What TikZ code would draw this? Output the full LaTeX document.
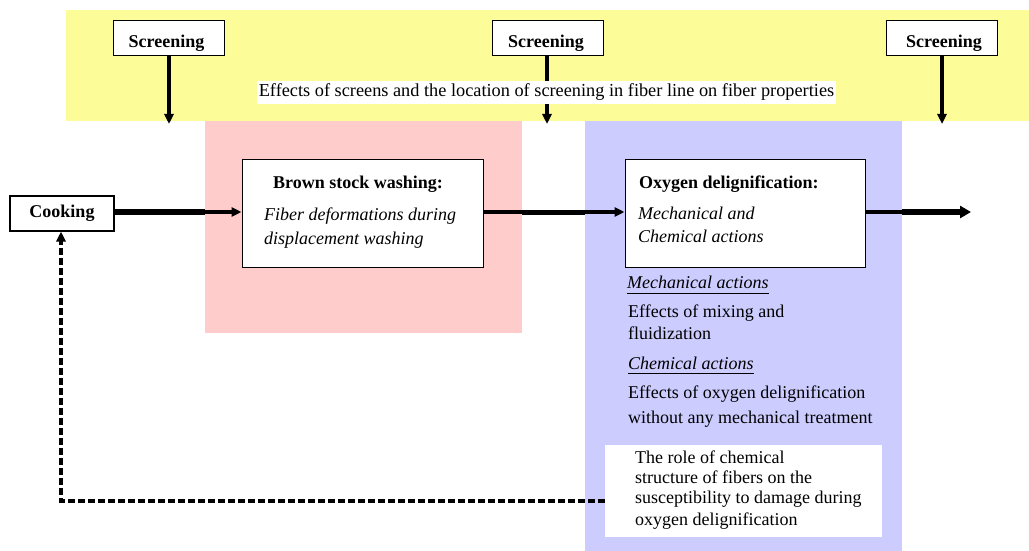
\documentclass[tikz,border=0pt]{standalone}
\usepackage{fontspec}
\setmainfont{Liberation Serif}
\usetikzlibrary{arrows.meta}
\definecolor{bandyellow}{RGB}{252,252,153}
\definecolor{zonepink}{RGB}{255,204,204}
\definecolor{zoneblue}{RGB}{204,204,255}
\tikzset{
  txt/.style={font=\fontsize{18}{21}\selectfont, inner sep=0pt, anchor=base west},
  boxnode/.style={draw=black, line width=1pt, fill=white, inner sep=0pt},
  screenbox/.style={boxnode, minimum width=111pt, minimum height=35pt},
  screentxt/.style={font=\fontsize{18}{21}\selectfont\bfseries, inner sep=0pt, anchor=base},
  tip/.style={-{Triangle[length=10pt,width=9pt]}},
  uline/.style={line width=0.9pt}
}
\begin{document}
\begin{tikzpicture}[x=1pt,y=-1pt]
\useasboundingbox[fill=white] (0,0) rectangle (1029,551);
% background zones
\fill[bandyellow] (66,10) rectangle (1029,121);
\fill[zonepink] (205,121) rectangle (522,333);
\fill[zoneblue] (585,121) rectangle (902,551);

% screening boxes
\node[screenbox] (s1) at (168.5,38.5) {};
\node[screenbox] (s2) at (548,38.5) {};
\node[screenbox] (s3) at (942,38.5) {};
\node[screentxt] (s1t) at (166.5,48) {Screening};
\node[screentxt] (s2t) at (546,48) {Screening};
\node[screentxt] (s3t) at (944,48) {Screening};
\coordinate (s1e) at (169,124);
\coordinate (s2e) at (547,124);
\coordinate (s3e) at (942,124);
\draw[tip, line width=3.2pt] (s1.south -| s1e) -- (s1e);
\draw[tip, line width=3.2pt] (s2.south -| s2e) -- (s2e);
\draw[tip, line width=3.2pt] (s3.south -| s3e) -- (s3e);

% header text
\node[fill=white, inner xsep=2pt, inner ysep=3pt, font=\fontsize{18.3}{21}\selectfont] (hdr) at (546.5,92.5)
  {Effects of screens and the location of screening in fiber line on fiber properties};

% main boxes
\node[boxnode, minimum width=104pt, minimum height=35pt, line width=2pt, font=\fontsize{18}{21}\selectfont\bfseries] (cook) at (62,213) {Cooking};
\node[boxnode, minimum width=241pt, minimum height=108pt] (brown) at (362.5,213) {};
\node[boxnode, minimum width=240pt, minimum height=108pt] (oxy) at (745,213) {};

\node[txt] (bt1) at (273,188) {\bfseries Brown stock washing:};
\node[txt] (bt2) at (264,220) {\itshape Fiber deformations during};
\node[txt] (bt3) at (264,244) {\itshape displacement washing};

\node[txt] (ot1) at (639,188) {\bfseries Oxygen delignification:};
\node[txt] (ot2) at (638,219) {\itshape Mechanical and};
\node[txt] (ot3) at (638,242) {\itshape Chemical actions};

% blue zone texts
\node[txt] (ma) at (627,288) {\itshape Mechanical actions};
\draw[uline] ([yshift=-5pt]ma.base west) -- ([yshift=-5pt]ma.base east);
\node[txt] (m1) at (628,317) {Effects of mixing and};
\node[txt] (m2) at (628,339) {fluidization};
\node[txt] (ca) at (628,369) {\itshape Chemical actions};
\draw[uline] ([yshift=-4pt]ca.base west) -- ([yshift=-4pt]ca.base east);
\node[txt] (c1) at (628,398) {Effects of oxygen delignification};
\node[txt] (c2) at (628,423) {without any mechanical treatment};

% white box
\node[fill=white, inner sep=0pt, minimum width=277pt, minimum height=92pt] (role) at (743.5,491) {};
\node[txt] (r1) at (635,463) {The role of chemical};
\node[txt] (r2) at (635,483) {structure of fibers on the};
\node[txt] (r3) at (635,503) {susceptibility to damage during};
\node[txt] (r4) at (635,525) {oxygen delignification};

% flow arrows
\coordinate (cm) at (205,212);
\draw[line width=6.5pt] (cook.east |- cm) -- (cm);
\draw[tip, line width=4pt] (cm) -- (brown.west |- cm);
\coordinate (bw1) at (522,212);
\coordinate (bw2) at (585,212);
\draw[line width=3.2pt] (brown.east |- cm) -- (bw1);
\draw[line width=5pt] (bw1) -- (bw2);
\draw[tip, line width=3.2pt] (bw2) -- (oxy.west |- cm);
\coordinate (om) at (902,212);
\coordinate (oend) at (971,212);
\draw[line width=4pt] (oxy.east |- om) -- (om);
\draw[-{Triangle[length=11pt,width=12pt]}, line width=6.5pt] (om) -- (oend);

% dashed feedback
\coordinate (fb) at (61,501);
\draw[tip, line width=3.6pt, dash pattern=on 7pt off 3pt] (role.west |- fb) -- (fb) -- (cook.south -| fb);
\end{tikzpicture}
\end{document}
